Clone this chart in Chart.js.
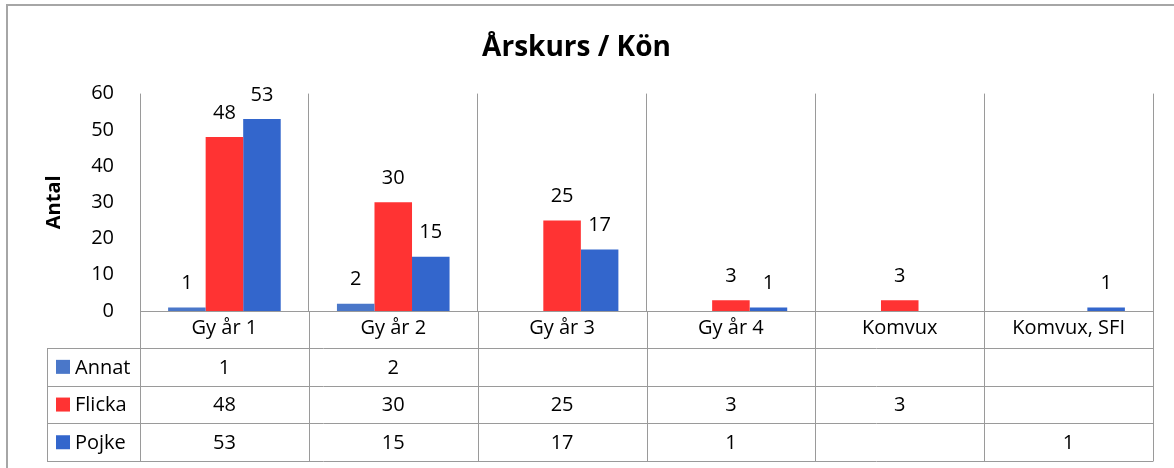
<!DOCTYPE html>
<html>
<head>
<meta charset="utf-8">
<script src="https://cdn.jsdelivr.net/npm/chart.js@4.4.1/dist/chart.umd.min.js"></script>
<style>
  html, body { margin: 0; padding: 0; background: #fff; }
</style>
</head>
<body>
<canvas id="arskursChart" width="1174" height="468"></canvas>
<script>
  // Data från diagrammet
  const kategorier = ['Gy år 1', 'Gy år 2', 'Gy år 3', 'Gy år 4', 'Komvux', 'Komvux, SFI'];
  const annat  = [1, 2, null, null, null, null];
  const flicka = [48, 30, 25, 3, 3, null];
  const pojke  = [53, 15, 17, 1, null, 1];
  const yTicks = [0, 10, 20, 30, 40, 50, 60];

  const FONT = '"Open Sans", Lato, sans-serif';
  const LINJE = '#9a9a9a';
  const TEXT = 20;

  // Ritar värden över staplarna, datatabellen under axeln och ramen
  const tabellPlugin = {
    id: 'tabell',
    afterDraw(chart) {
      const ctx = chart.ctx;
      const area = chart.chartArea;
      const x = chart.scales.x;
      const kolBredd = (area.right - area.left) / kategorier.length;
      const radHojd = 37.7;
      const tabellTopp = x.bottom;
      const tabellVanster = 47;

      ctx.save();
      ctx.font = TEXT + 'px ' + FONT;
      ctx.fillStyle = '#000';
      ctx.textAlign = 'center';
      ctx.textBaseline = 'middle';

      // värden ovanför staplarna
      chart.data.datasets.forEach((ds, di) => {
        const meta = chart.getDatasetMeta(di);
        meta.data.forEach((bar, i) => {
          if (ds.data[i] === null) return;
          ctx.fillText(String(ds.data[i]), bar.x, bar.y - 24);
        });
      });

      // tabellens linjer
      ctx.strokeStyle = LINJE;
      ctx.lineWidth = 1;
      ctx.beginPath();
      for (let r = 0; r <= chart.data.datasets.length; r++) {
        const y = Math.round(tabellTopp + r * radHojd) + 0.5;
        ctx.moveTo(tabellVanster, y);
        ctx.lineTo(area.right, y);
      }
      const botten = Math.round(tabellTopp + chart.data.datasets.length * radHojd) + 0.5;
      ctx.moveTo(tabellVanster + 0.5, tabellTopp);
      ctx.lineTo(tabellVanster + 0.5, botten);
      for (let k = 0; k <= kategorier.length; k++) {
        const xk = Math.round(area.left + k * kolBredd) + 0.5;
        ctx.moveTo(xk, area.bottom);
        ctx.lineTo(xk, botten);
      }
      ctx.stroke();

      // rader med förklaring och värden
      chart.data.datasets.forEach((ds, di) => {
        const yc = tabellTopp + (di + 0.5) * radHojd;
        ctx.fillStyle = ds.backgroundColor;
        ctx.fillRect(56, yc - 7, 14, 14);
        ctx.fillStyle = '#000';
        ctx.textAlign = 'left';
        ctx.fillText(ds.label, 75, yc + 1);
        ctx.textAlign = 'center';
        ds.data.forEach((v, i) => {
          if (v === null) return;
          ctx.fillText(String(v), x.getPixelForValue(i), yc + 1);
        });
      });

      // yttre ram (vänster och överkant)
      ctx.strokeStyle = '#a6a6a6';
      ctx.lineWidth = 2;
      ctx.beginPath();
      ctx.moveTo(7, 468);
      ctx.lineTo(7, 5);
      ctx.lineTo(1174, 5);
      ctx.stroke();
      ctx.restore();
    }
  };

  const ctx = document.getElementById('arskursChart').getContext('2d');
  new Chart(ctx, {
    type: 'bar',
    data: {
      labels: kategorier,
      datasets: [
        { label: 'Annat',  data: annat,  backgroundColor: '#4a77c9' },
        { label: 'Flicka', data: flicka, backgroundColor: '#ff3333' },
        { label: 'Pojke',  data: pojke,  backgroundColor: '#3366cc' }
      ]
    },
    options: {
      responsive: false,
      animation: false,
      devicePixelRatio: 1,
      layout: { padding: { top: 0, left: 0, right: 21, bottom: 120 } },
      datasets: { bar: { categoryPercentage: 0.667, barPercentage: 1.0 } },
      plugins: {
        legend: { display: false },
        tooltip: { enabled: false },
        title: {
          display: true,
          text: 'Årskurs / Kön',
          color: '#000',
          font: { family: FONT, size: 28, weight: 'bold' },
          padding: { top: 31, bottom: 29 }
        }
      },
      scales: {
        x: {
          afterFit(scale) { scale.height = 37; },
          grid: { color: LINJE, drawTicks: false, offset: true },
          border: { display: true, color: LINJE },
          ticks: { color: '#000', font: { family: FONT, size: TEXT }, padding: 5 }
        },
        y: {
          min: 0,
          max: 60,
          afterFit(scale) { scale.width = 140; },
          afterBuildTicks(scale) { scale.ticks = yTicks.map(v => ({ value: v })); },
          grid: { display: false },
          border: { display: false },
          ticks: { color: '#000', font: { family: FONT, size: TEXT }, padding: 18 },
          title: {
            display: true,
            text: 'Antal',
            color: '#000',
            font: { family: FONT, size: 20, weight: 'bold' },
            padding: { top: 42, bottom: 0 }
          }
        }
      }
    },
    plugins: [tabellPlugin]
  });
</script>
</body>
</html>
